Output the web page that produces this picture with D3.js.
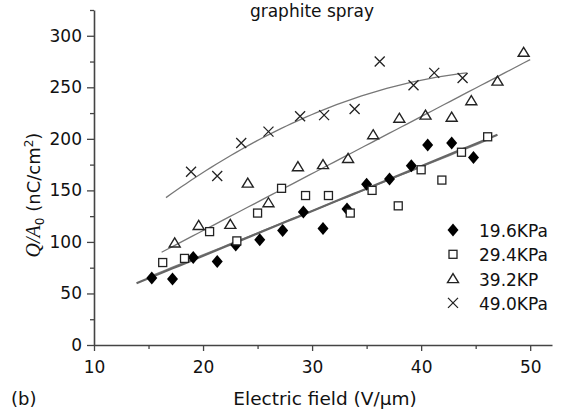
<!DOCTYPE html>
<html><head><meta charset="utf-8">
<script src="https://cdn.jsdelivr.net/npm/d3@7"></script>
<style>
html,body{margin:0;padding:0;background:#fff;}
text{font-family:"DejaVu Sans",sans-serif;fill:#111;}
</style></head>
<body><svg id="chart" width="570" height="413"></svg>
<script>
// ---- data ----
const seriesNames = ["19.6KPa", "29.4KPa", "39.2KP", "49.0KPa"];
const x196 = [15.3, 17.2, 19.1, 21.3, 23.0, 25.2, 27.3, 29.2, 31.0, 33.2, 35.0, 37.1, 39.1, 40.6, 42.8, 44.8];
const y196 = [65, 64, 85, 81, 97, 102, 111, 129, 113, 132, 156, 161, 174, 194, 196, 182];
const x294 = [16.3, 18.3, 20.6, 23.1, 25.0, 27.2, 29.4, 31.5, 33.5, 35.5, 37.9, 40.0, 41.9, 43.7, 46.1];
const y294 = [80, 84, 110, 101, 128, 152, 145, 145, 128, 150, 135, 170, 160, 187, 202];
const x392 = [17.4, 19.6, 22.5, 24.1, 26.0, 28.7, 31.0, 33.3, 35.6, 38.0, 40.4, 42.8, 44.6, 47.0, 49.4];
const y392 = [99, 116, 117, 157, 138, 173, 175, 181, 204, 220, 223, 221, 237, 256, 284];
const x490 = [18.9, 21.3, 23.5, 26.0, 28.9, 31.1, 33.9, 36.2, 39.3, 41.2, 43.8];
const y490 = [168, 164, 196, 207, 222, 223, 229, 275, 252, 264, 259];
// fitted curves: y = c0 + c1*x + c2*x^2 over [from, to]
const fit196 = [-0.5, 4.35, 0, 13.9, 47.0];
const fit294 = [2.0, 4.27, 0, 15.0, 46.3];
const fit392 = [0.4, 5.53, 0, 16.2, 50.0];
const fit490 = [-14.41, 11.395, -0.1153, 16.6, 44.2];
const xTicks = [10, 20, 30, 40, 50];
const yTicks = [0, 50, 100, 150, 200, 250, 300];

// ---- layout ----
const svg = d3.select("#chart");
const x = d3.scaleLinear().domain([10, 52]).range([94, 552]);
const y = d3.scaleLinear().domain([0, 325]).range([345, 10]);
const axisColor = "#444";

// axes
svg.append("g").attr("transform", "translate(0,345)")
  .call(d3.axisBottom(x).tickValues(xTicks).tickSize(6).tickPadding(10).tickSizeOuter(0));
svg.append("g").attr("transform", "translate(0,345)")
  .call(d3.axisBottom(x).tickValues(d3.range(15, 52, 10)).tickSize(4).tickFormat("").tickSizeOuter(0))
  .select(".domain").remove();
svg.append("g").attr("transform", "translate(94,0)")
  .call(d3.axisLeft(y).tickValues(yTicks).tickSize(7).tickPadding(5).tickSizeOuter(0));
svg.append("g").attr("transform", "translate(94,0)")
  .call(d3.axisLeft(y).tickValues(d3.range(25, 326, 50)).tickSize(4).tickFormat("").tickSizeOuter(0))
  .select(".domain").remove();
svg.selectAll(".domain").attr("stroke", axisColor).attr("stroke-width", 1.6);
svg.selectAll(".tick line").attr("stroke", axisColor).attr("stroke-width", 1.3);
svg.selectAll(".tick text").attr("font-size", 17).attr("fill", "#111")
  .attr("font-family", "'DejaVu Sans', sans-serif");

// fits
function fitPts(f) {
  const n = 60, pts = [];
  for (let i = 0; i <= n; i++) {
    const xv = f[3] + (f[4] - f[3]) * i / n;
    pts.push([xv, f[0] + f[1] * xv + f[2] * xv * xv]);
  }
  return pts;
}
const line = d3.line().x(d => x(d[0])).y(d => y(d[1]));
svg.append("path").attr("d", line(fitPts(fit294))).attr("fill", "none").attr("stroke", "#888").attr("stroke-width", 1.4);
svg.append("path").attr("d", line(fitPts(fit196))).attr("fill", "none").attr("stroke", "#666").attr("stroke-width", 2.2);
svg.append("path").attr("d", line(fitPts(fit392))).attr("fill", "none").attr("stroke", "#777").attr("stroke-width", 1.3);
svg.append("path").attr("d", line(fitPts(fit490))).attr("fill", "none").attr("stroke", "#777").attr("stroke-width", 1.3);

// markers
const markers = {
  diamond: g => g.append("path").attr("d", "M0,-6.5L5.5,0L0,6.5L-5.5,0Z").attr("fill", "#000"),
  square: g => g.append("rect").attr("x", -4).attr("y", -4).attr("width", 8).attr("height", 8)
    .attr("fill", "#fff").attr("stroke", "#222").attr("stroke-width", 1.3),
  triangle: g => g.append("path").attr("d", "M0,-5L5.5,4L-5.5,4Z")
    .attr("fill", "none").attr("stroke", "#222").attr("stroke-width", 1.4),
  cross: g => g.append("path").attr("d", "M-5,-5L5,5M-5,5L5,-5")
    .attr("fill", "none").attr("stroke", "#222").attr("stroke-width", 1.3)
};
const series = [
  {xs: x196, ys: y196, m: "diamond"},
  {xs: x294, ys: y294, m: "square"},
  {xs: x392, ys: y392, m: "triangle"},
  {xs: x490, ys: y490, m: "cross"}
];
series.forEach(s => {
  s.xs.forEach((xv, i) => {
    const g = svg.append("g").attr("transform", `translate(${x(xv)},${y(s.ys[i])})`);
    markers[s.m](g);
  });
});

// legend
series.forEach((s, i) => {
  const yy = 230 + i * 24.3;
  const g = svg.append("g").attr("transform", `translate(453,${yy})`);
  markers[s.m](g);
  svg.append("text").attr("x", 479).attr("y", yy + 7).attr("font-size", 17).text(seriesNames[i]);
});

// titles
svg.append("text").attr("x", 312).attr("y", 17).attr("text-anchor", "middle").attr("font-size", 17).text("graphite spray");
svg.append("text").attr("x", 325).attr("y", 405).attr("text-anchor", "middle").attr("font-size", 18.5).text("Electric field (V/\u03bcm)");
svg.append("text").attr("x", 11).attr("y", 405).attr("font-size", 18).text("(b)");
const yl = svg.append("text").attr("transform", "translate(40,195) rotate(-90)").attr("text-anchor", "middle").attr("font-size", 18);
yl.append("tspan").attr("font-family", "'Liberation Serif', 'Times New Roman', serif").attr("font-style", "italic").attr("font-size", 20).text("Q/A");
yl.append("tspan").attr("font-size", 12).attr("dy", 4).text("0");
yl.append("tspan").attr("dy", -4).text(" (nC/cm");
yl.append("tspan").attr("font-size", 12).attr("dy", -7).text("2");
yl.append("tspan").attr("dy", 7).text(")");
</script></body></html>
